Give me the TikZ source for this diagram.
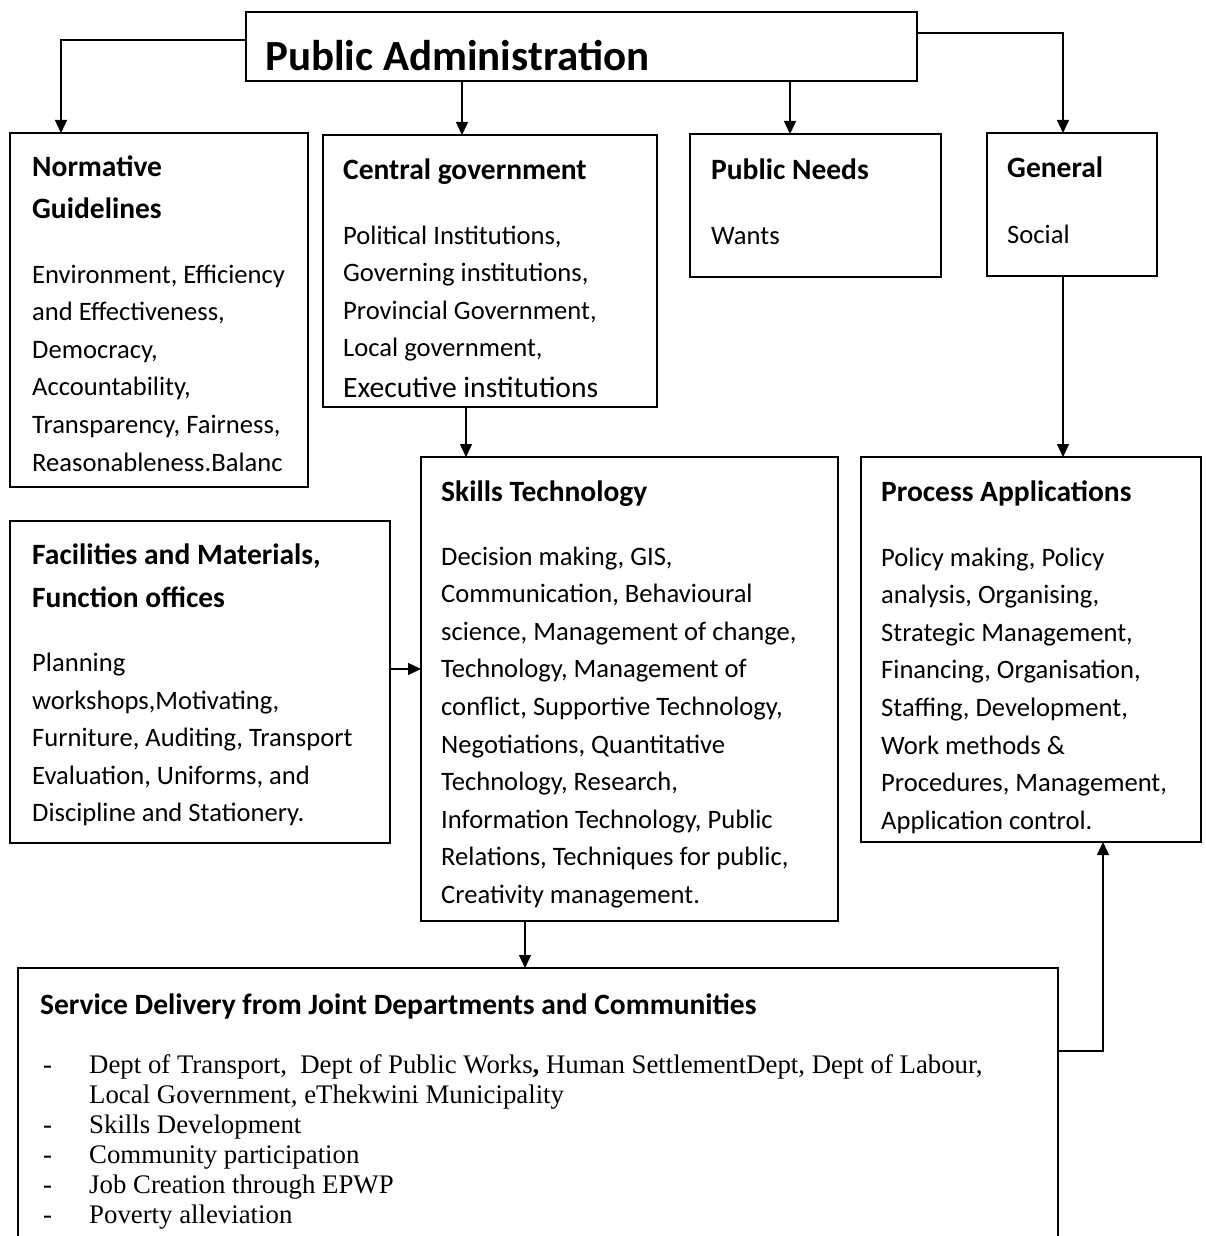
\documentclass[tikz,border=0pt]{standalone}
\usepackage{fontspec}
\setmainfont{Carlito}
\newfontfamily\tnr{Liberation Serif}
\usetikzlibrary{arrows.meta}

% Multi-line nodes are placed by the baseline of their last line (anchor=base west).
\tikzset{
  frame/.style={draw, line width=1.5pt, anchor=north west, inner sep=0pt, outer sep=0pt},
  link/.style={line width=1.4pt, -{Triangle[length=13pt,width=12pt]}},
  head/.style={anchor=base west, inner sep=0pt, font=\fontsize{29.5}{42.5}\selectfont\bfseries, align=left},
  body/.style={anchor=base west, inner sep=0pt, font=\fontsize{26.6}{37.6}\selectfont, align=left},
  serif/.style={anchor=base west, inner sep=0pt, font=\tnr\fontsize{26.8}{30}\selectfont, align=left}
}

\begin{document}
\begin{tikzpicture}[x=1pt,y=-1pt]
\useasboundingbox (0,0) rectangle (1205,1236);

% Boxes
\node[frame, minimum width=671pt, minimum height=69pt] (pa) at (246,12) {};
\node[frame, minimum width=298pt, minimum height=354pt] (norm) at (10,133) {};
\node[frame, minimum width=334pt, minimum height=272pt] (cent) at (323,135) {};
\node[frame, minimum width=251pt, minimum height=143pt] (need) at (690,134) {};
\node[frame, minimum width=170pt, minimum height=143pt] (gen) at (987,133) {};
\node[frame, minimum width=417pt, minimum height=464pt] (skill) at (421,457) {};
\node[frame, minimum width=380pt, minimum height=322pt] (fac) at (10,521) {};
\node[frame, minimum width=340pt, minimum height=385pt] (proc) at (861,457) {};
\node[frame, minimum width=1040pt, minimum height=290pt] (serv) at (18,968) {};

% Texts
\node[anchor=base west, inner sep=0pt, font=\fontsize{43}{43}\selectfont\bfseries] (patxt) at (265,71) {Public Administration};

\node[head] (normh) at (32,218.5) {Normative\\Guidelines};
\node[body] (normb) at (32,471) {Environment, Efficiency\\and Effectiveness,\\Democracy,\\Accountability,\\Transparency, Fairness,\\Reasonableness.Balanc};

\node[head] (centh) at (343,179) {Central government};
\node[body] (centb) at (343,356.8) {Political Institutions,\\Governing institutions,\\Provincial Government,\\Local government,};
\node[anchor=base west, inner sep=0pt, font=\fontsize{29.6}{38}\selectfont] (centx) at (343,397) {Executive institutions};

\node[head] (needh) at (711,179) {Public Needs};
\node[body] (needb) at (711,244) {Wants};

\node[head] (genh) at (1007,177) {General};
\node[body] (genb) at (1007,243) {Social};

\node[head] (skillh) at (441,501) {Skills Technology};
\node[body] (skillb) at (441,903.4) {Decision making, GIS,\\Communication, Behavioural\\science, Management of change,\\Technology, Management of\\conflict, Supportive Technology,\\Negotiations, Quantitative\\Technology, Research,\\Information Technology, Public\\Relations, Techniques for public,\\Creativity management.};

\node[head] (fach) at (32,607) {Facilities and Materials,\\Function offices};
\node[body] (facb) at (32,821.8) {Planning\\workshops,Motivating,\\Furniture, Auditing, Transport\\Evaluation, Uniforms, and\\Discipline and Stationery.};

\node[head] (proch) at (881,501) {Process Applications};
\node[body] (procb) at (881,829.2) {Policy making, Policy\\analysis, Organising,\\Strategic Management,\\Financing, Organisation,\\Staffing, Development,\\Work methods \&\\Procedures, Management,\\Application control.};

\node[head] (servh) at (40,1014) {Service Delivery from Joint Departments and Communities};
\node[serif] (d1) at (43,1073) {-};
\node[serif] (d2) at (43,1133) {-};
\node[serif] (d3) at (43,1163) {-};
\node[serif] (d4) at (43,1193) {-};
\node[serif] (d5) at (43,1223) {-};
\node[serif] (s1) at (89,1103) {Dept of Transport,\ \ Dept of Public Works\textbf{,} Human SettlementDept, Dept of Labour,\\Local Government, eThekwini Municipality};
\node[serif] (s2) at (89,1133) {Skills Development};
\node[serif] (s3) at (89,1163) {Community participation};
\node[serif] (s4) at (89,1193) {Job Creation through EPWP};
\node[serif] (s5) at (89,1223) {Poverty alleviation};

% Connectors
\coordinate (lcorner) at (61,40);
\draw[link] (pa.west |- lcorner) -- (lcorner) -- (lcorner |- norm.north);
\draw[link] (pa.south -| 462,0) -- (cent.north -| 462,0);
\draw[link] (pa.south -| 790,0) -- (need.north -| 790,0);
\coordinate (rcorner) at (1063,33);
\draw[link] (pa.east |- rcorner) -- (rcorner) -- (rcorner |- gen.north);
\draw[link] (cent.south -| 466,0) -- (skill.north -| 466,0);
\draw[link] (gen.south -| 1063,0) -- (proc.north -| 1063,0);
\draw[link] (fac.east |- 0,669) -- (skill.west |- 0,669);
\draw[link] (skill.south -| 525,0) -- (serv.north -| 525,0);
\coordinate (bcorner) at (1103,1051);
\draw[link] (serv.east |- bcorner) -- (bcorner) -- (bcorner |- proc.south);
\end{tikzpicture}
\end{document}
